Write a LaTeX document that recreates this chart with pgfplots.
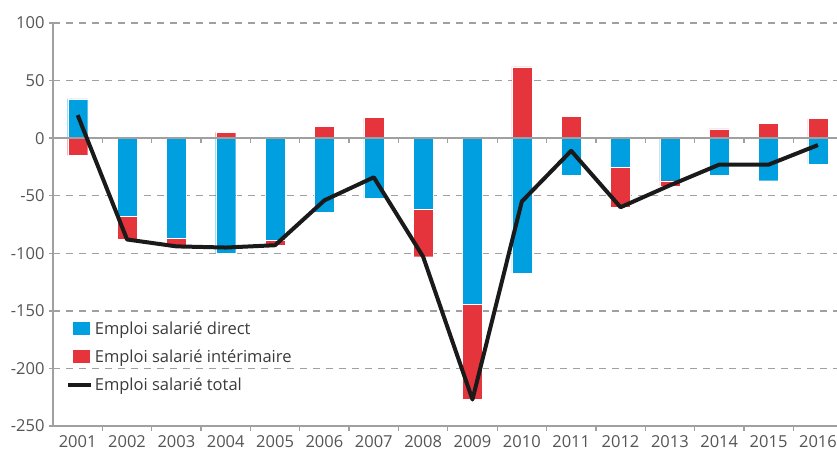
\documentclass[border=0pt]{standalone}
\usepackage{pgfplots}
\pgfplotsset{compat=1.18}
\usepackage{fontspec}
\setmainfont{Open Sans}
\definecolor{cblue}{HTML}{009FE0}
\definecolor{cred}{HTML}{E6343C}
\definecolor{cgrid}{HTML}{A0A0A0}
\definecolor{ctext}{HTML}{555555}
\definecolor{cline}{HTML}{1A1A1A}
\begin{document}
\begin{tikzpicture}
\pgfplotstableread{
x blue redend total
0 34 -15 20
1 -68 -88 -88
2 -87 -94 -94
3 -100 5 -95
4 -89 -93 -93
5 -64 10 -54
6 -52 18 -34
7 -62 -103 -103
8 -144 -227 -227
9 -117 62 -55
10 -32 19 -11
11 -25 -60 -60
12 -37 -42 -41
13 -32 8 -23
14 -37 13 -23
15 -23 17 -6
}\data
\begin{axis}[
  at={(0pt,0pt)}, anchor=south west,
  scale only axis,
  width=789.6pt, height=403pt,
  xmin=-0.5, xmax=15.5,
  ymin=-250, ymax=100,
  axis x line*=bottom, axis y line*=left,
  axis line style={cgrid, line width=1.3pt},
  xtick={0,...,15},
  xticklabels={2001,2002,2003,2004,2005,2006,2007,2008,2009,2010,2011,2012,2013,2014,2015,2016},
  major x tick style={draw=none},
  minor xtick={0.5,1.5,...,15.5},
  minor x tick style={cgrid, line width=1.3pt},
  minor tick length=5pt,
  ytick={-250,-200,...,100},
  major y tick style={cgrid, line width=1.3pt},
  major tick length=4pt,
  tick align=outside,
  ymajorgrids,
  grid style={cgrid, line width=1.3pt, dash pattern=on 7pt off 6pt},
  /pgf/number format/assume math mode=true,
  ticklabel style={font=\fontsize{16.5}{19}\selectfont, text=ctext},
  xticklabel style={yshift=-2pt},
  yticklabel style={xshift=-1pt},
  clip=false,
  legend style={at={(rel axis cs:0.016,0.265)}, anchor=north west, draw=none, fill=none,
    font=\fontsize{16.5}{19}\selectfont, text=ctext!70!black, row sep=10pt,
    inner sep=0pt},
  legend cell align=left,
]
\addlegendimage{legend image code/.code={\fill[cblue] (0pt,-6pt) rectangle (16pt,6pt);}}
\addlegendentry{Emploi salarié direct}
\addlegendimage{legend image code/.code={\fill[cred] (0pt,-6pt) rectangle (16pt,6pt);}}
\addlegendentry{Emploi salarié intérimaire}
\addlegendimage{legend image code/.code={\draw[cline, line width=4pt] (-5pt,0pt) -- (18pt,0pt);}}
\addlegendentry{Emploi salarié total}
\addplot[ybar, bar width=20pt, bar shift=0pt, fill=cred, draw=white, line width=0.3pt, forget plot] table[x=x, y=redend] {\data};
\addplot[ybar, bar width=20pt, bar shift=0pt, fill=cblue, draw=white, line width=0.3pt, forget plot] table[x=x, y=blue] {\data};
\draw[cgrid, line width=1.3pt] (axis cs:-0.5,0) -- (axis cs:15.5,0);
\pgfplotsinvokeforeach{0.5,1.5,...,14.5}{\draw[cgrid, line width=1.3pt] (axis cs:#1,0) -- ++(0pt,-5pt);}
\addplot[cline, line width=4pt, line join=round, forget plot] table[x=x, y=total] {\data};
\end{axis}
\pgfresetboundingbox
\useasboundingbox (-53pt,-25pt) rectangle (784pt,426pt);
\end{tikzpicture}
\end{document}
